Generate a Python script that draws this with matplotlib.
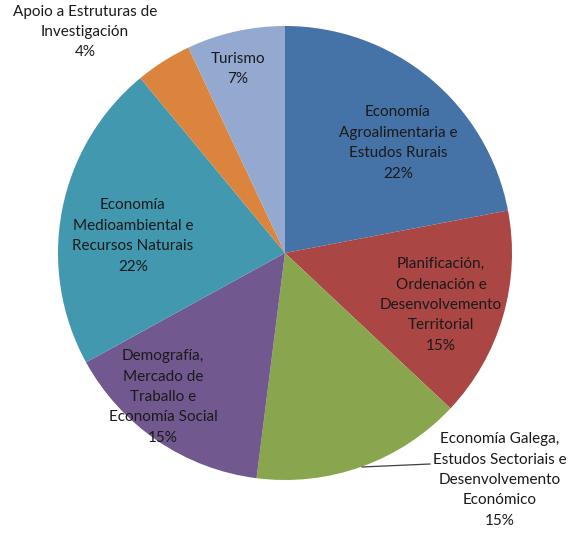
import matplotlib
matplotlib.use("Agg")
import matplotlib.pyplot as plt

labels = [
    "Economía\nAgroalimentaria e\nEstudos Rurais",
    "Planificación,\nOrdenación e\nDesenvolvemento\nTerritorial",
    "Economía Galega,\nEstudos Sectoriais e\nDesenvolvemento\nEconómico",
    "Demografía,\nMercado de\nTraballo e\nEconomía Social",
    "Economía\nMedioambiental e\nRecursos Naturais",
    "Apoio a Estruturas de\nInvestigación",
    "Turismo",
]
shares = [22, 15, 15, 15, 22, 4, 7]
colors = ["#4572A7", "#AA4643", "#89A54E", "#71588F", "#4198AF", "#DB843D", "#93A9CF"]

# label centres in pixels (x, y from top)
label_pos = [(398, 143), (441, 305), (500, 480), (163, 397), (133, 236), (85, 32), (238, 69)]

W, H = 569, 533
cx, cy, r = 285, 253, 227

fig = plt.figure(figsize=(W / 100, H / 100), dpi=100)
ax = fig.add_axes([0, 0, 1, 1])
ax.pie(shares, colors=colors, startangle=90, counterclock=False,
       center=(cx, H - cy), radius=r, wedgeprops=dict(linewidth=0))
ax.set_xlim(0, W)
ax.set_ylim(0, H)
ax.set_aspect("equal")
ax.axis("off")

for lab, val, (x, y) in zip(labels, shares, label_pos):
    ax.text(x, H - y, f"{lab}\n{val}%", ha="center", va="center",
            fontsize=11, family="Lato", linespacing=1.58, color="#1a1a1a")

# leader line for the outside label
ax.plot([362, 430], [H - 467, H - 464], color="#404040", linewidth=0.9)

fig.savefig("out.png", dpi=100)
